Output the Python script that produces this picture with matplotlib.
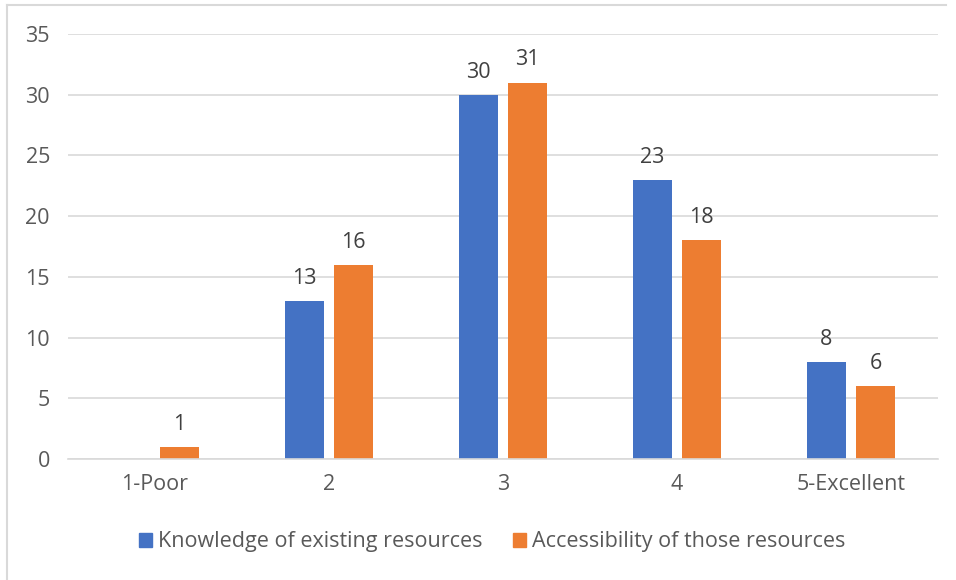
import numpy as np
import matplotlib.pyplot as plt
from matplotlib.lines import Line2D

categories = ["1-Poor", "2", "3", "4", "5-Excellent"]
knowledge = [0, 13, 30, 23, 8]
accessibility = [1, 16, 31, 18, 6]
series_names = ["Knowledge of existing resources", "Accessibility of those resources"]

blue = "#4472C4"
orange = "#ED7D31"
text_col = "#595959"

plt.rcParams["font.family"] = ["Open Sans", "DejaVu Sans"]
fs = 15.5

fig = plt.figure(figsize=(9.56, 5.8), dpi=100)
ax = fig.add_axes([68 / 956, 1 - 459 / 580, (938 - 68) / 956, (459 - 34) / 580])

x = np.arange(len(categories))
w = 0.224
off = 0.141
b1 = ax.bar(x - off, knowledge, w, color=blue, zorder=2)
b2 = ax.bar(x + off, accessibility, w, color=orange, zorder=2)

# data labels (skip empty blue bar)
for bars, vals in ((b1, knowledge), (b2, accessibility)):
    for rect, v in zip(bars, vals):
        if v == 0:
            continue
        ax.text(rect.get_x() + rect.get_width() / 2, v + 1.0, str(v),
                ha="center", va="bottom", fontsize=fs, color="#404040")

ax.set_xlim(-0.5, len(categories) - 0.5)
ax.set_ylim(0, 35)
ax.set_yticks(range(0, 36, 5))
ax.set_xticks(x)
ax.set_xticklabels(categories)
ax.tick_params(axis="both", length=0, labelsize=fs, labelcolor=text_col)
ax.tick_params(axis="y", pad=13)
ax.tick_params(axis="x", pad=11)
ax.grid(axis="y", color="#D9D9D9", lw=1.2, zorder=0)
for s in ["top", "right", "left"]:
    ax.spines[s].set_visible(False)
ax.spines["bottom"].set_color("#D9D9D9")
ax.spines["bottom"].set_linewidth(1.2)

handles = [plt.Rectangle((0, 0), 1, 1, color=blue), plt.Rectangle((0, 0), 1, 1, color=orange)]
fig.legend(handles, series_names, loc="center", bbox_to_anchor=(492 / 956, 1 - 542 / 580),
           ncol=2, frameon=False, fontsize=fs, labelcolor=text_col,
           handlelength=0.6, handleheight=0.6, handletextpad=0.3, columnspacing=1.4)

# chart frame
fig.add_artist(Line2D([7 / 956, 7 / 956], [0, 1 - 5 / 580], color="#D9D9D9", lw=1.5))
fig.add_artist(Line2D([7 / 956, 946 / 956], [1 - 5 / 580, 1 - 5 / 580], color="#D9D9D9", lw=1.5))

fig.savefig("out.png", dpi=100)
